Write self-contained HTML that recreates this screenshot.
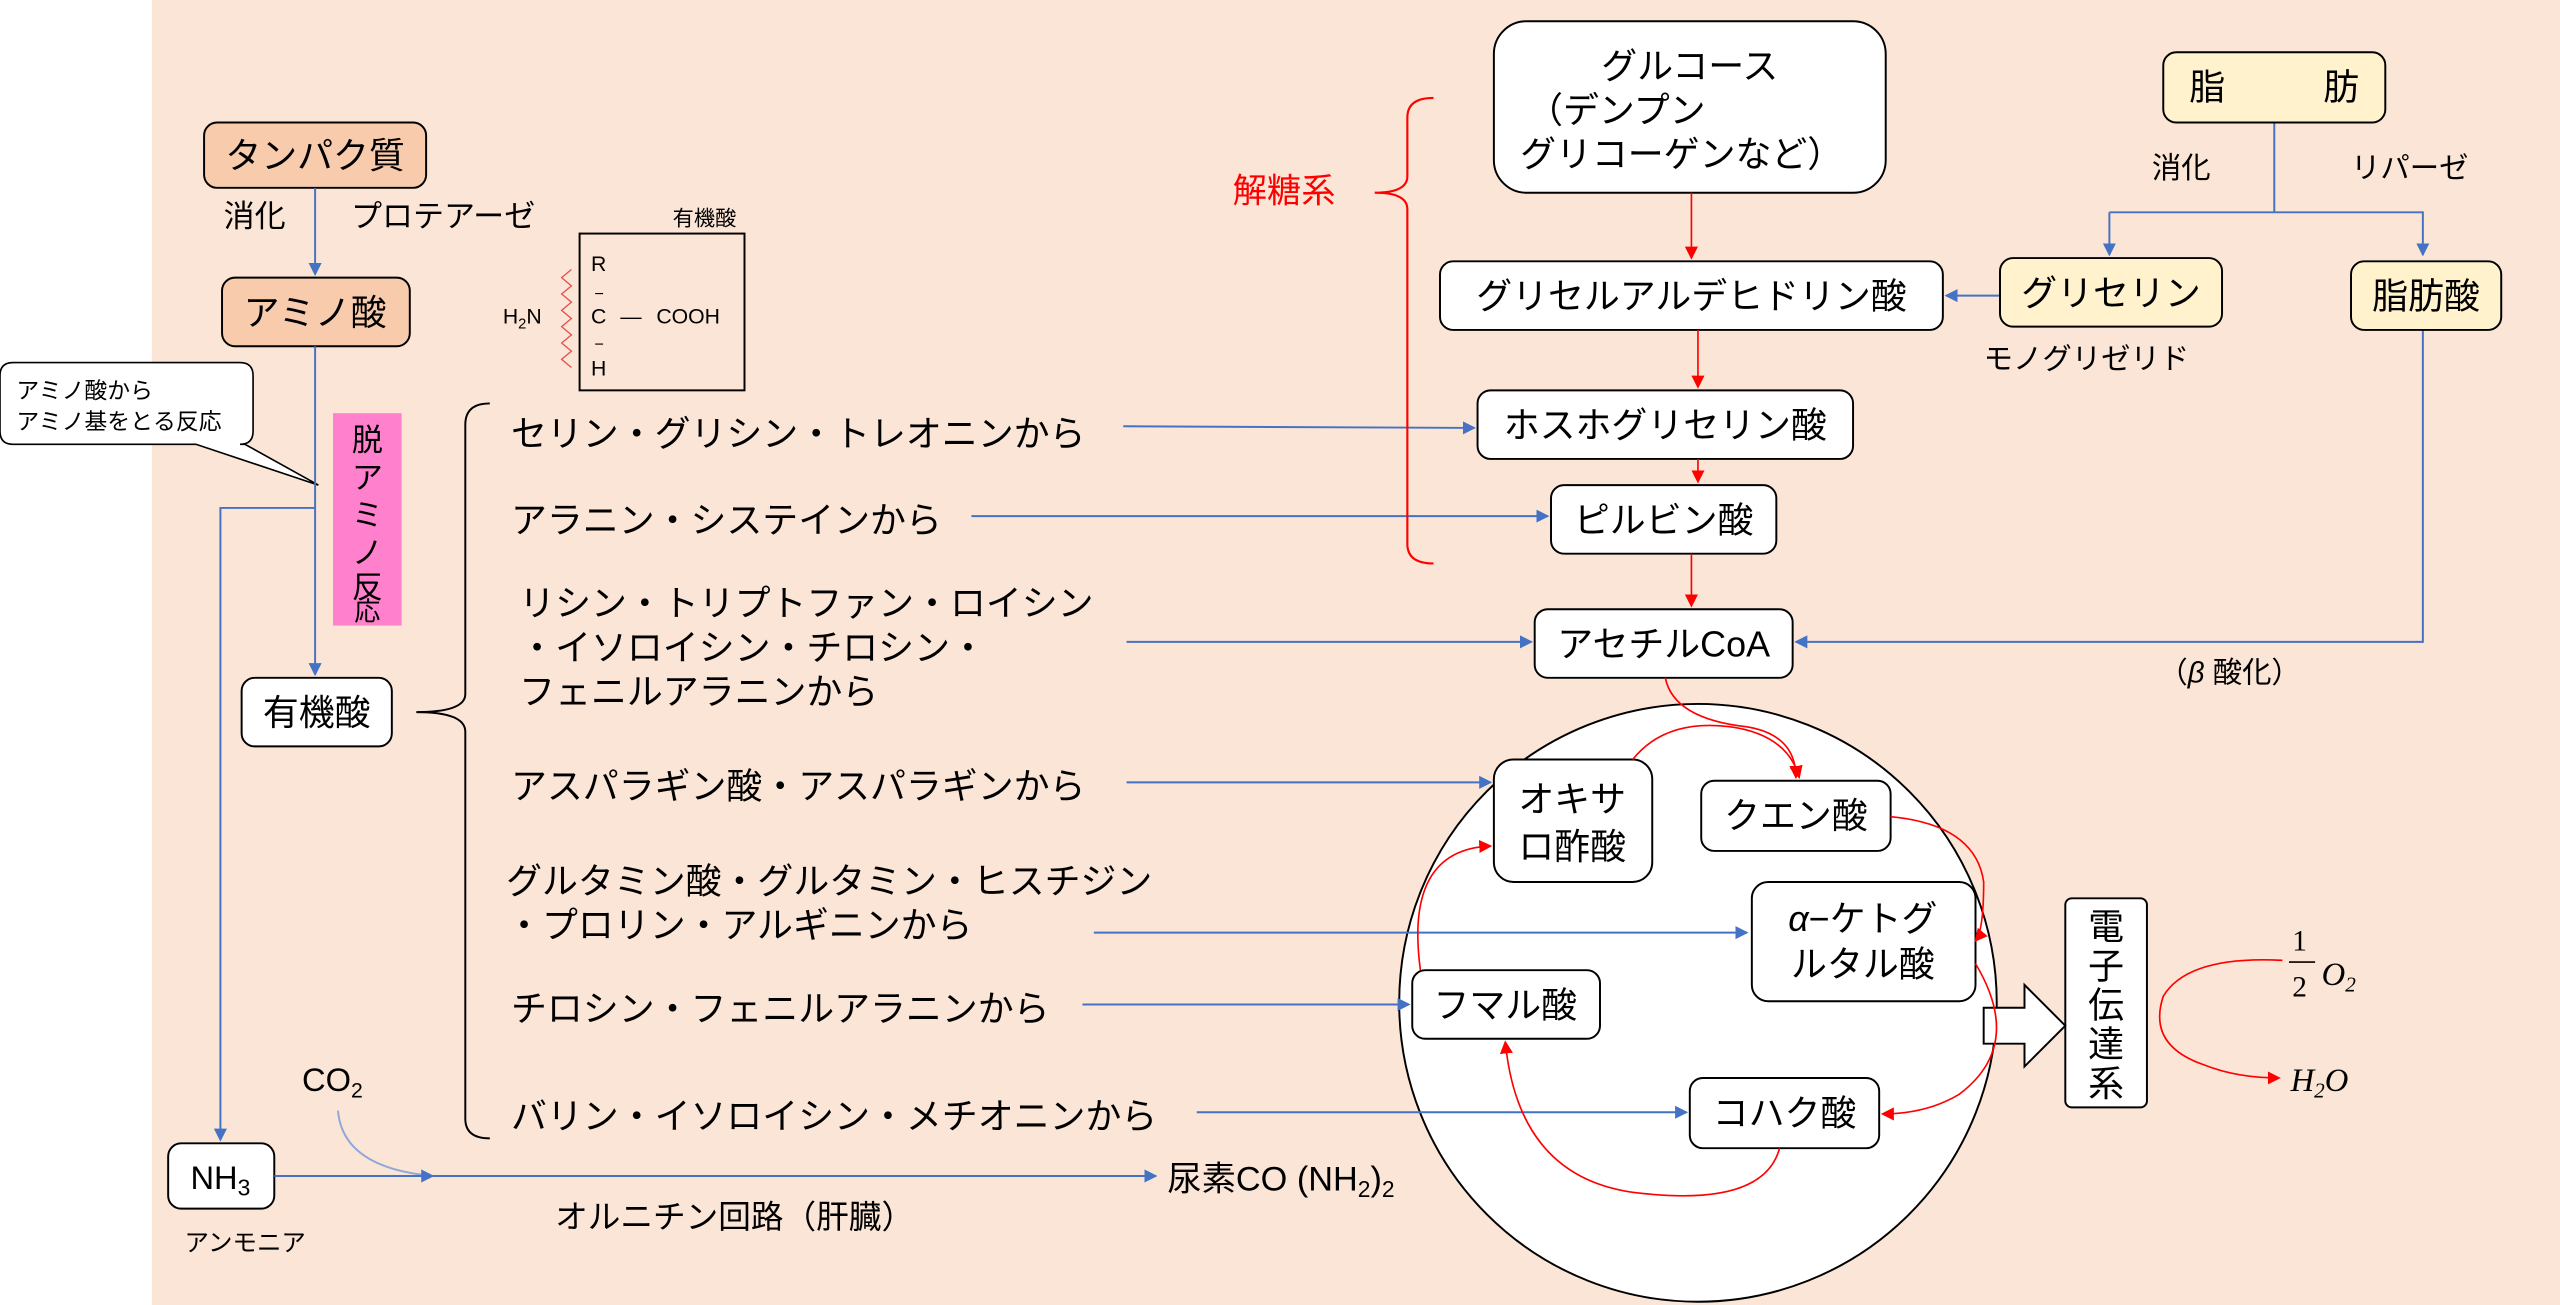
<!DOCTYPE html>
<html><head><meta charset="utf-8"><style>
html,body{margin:0;padding:0;background:#fff}
svg{display:block}
text{font-family:"Liberation Sans","Noto Sans CJK JP",sans-serif;fill:#000}
</style></head><body>
<svg width="2560" height="1305" viewBox="0 0 1568 799" preserveAspectRatio="none" xmlns="http://www.w3.org/2000/svg">
<defs>
<marker id="ab" markerWidth="8" markerHeight="8" refX="7" refY="4" orient="auto" markerUnits="userSpaceOnUse"><path d="M0,0 L8,4 L0,8 z" fill="#4472C4"/></marker>
<marker id="ar" markerWidth="8" markerHeight="8" refX="7" refY="4" orient="auto" markerUnits="userSpaceOnUse"><path d="M0,0 L8,4 L0,8 z" fill="#FF0000"/></marker>
</defs>
<rect x="93" y="0" width="1475" height="799" fill="#FBE5D6"/>
<circle cx="1040" cy="614" r="183" fill="#fff" stroke="#000" stroke-width="1.2"/>
<g stroke="#000" stroke-width="1.2">
<rect x="125" y="75" width="136" height="40" rx="8" fill="#F8CBAD"/>
<rect x="136" y="170" width="115" height="42" rx="8" fill="#F8CBAD"/>
<rect x="148" y="415" width="92" height="42" rx="8" fill="#fff"/>
<rect x="103" y="700" width="65" height="40" rx="8" fill="#fff"/>
</g>
<rect x="204" y="253" width="42" height="130" fill="#FF80CC"/>
<g font-size="22" text-anchor="middle">
<text x="193" y="103">タンパク質</text>
<text x="193" y="199">アミノ酸</text>
<text x="194" y="444">有機酸</text>
<text x="135" y="728" font-size="20">NH<tspan font-size="14" dy="4">3</tspan></text>
</g>
<g font-size="19" text-anchor="middle">
<text x="225" y="276">脱</text><text x="225" y="299">ア</text><text x="225" y="322">ミ</text><text x="225" y="345">ノ</text><text x="225" y="366">反</text><text x="225" y="380" font-size="16">応</text>
</g>
<g font-size="19">
<text x="137" y="139">消化</text><text x="215" y="139">プロテアーゼ</text>
<text x="113" y="766" font-size="15">アンモニア</text>
<text x="185" y="668" font-size="20">CO<tspan font-size="13" dy="4">2</tspan></text>
<text x="340" y="752" font-size="20">オルニチン回路（肝臓）</text>
<text x="715" y="729" font-size="21">尿素CO (NH<tspan font-size="14" dy="4">2</tspan><tspan dy="-4">)</tspan><tspan font-size="14" dy="4">2</tspan></text>
</g>
<path d="M8,222 H147 Q155,222 155,230 V264 Q155,272 147,272 H150 L195,297 L120,272 H8 Q0,272 0,264 V230 Q0,222 8,222 Z" fill="#fff" stroke="#000" stroke-width="1"/>
<text x="10" y="244" font-size="14">アミノ酸から</text>
<text x="10" y="263" font-size="14">アミノ基をとる反応</text>
<g stroke="#4472C4" stroke-width="1.2" fill="none">
<line x1="193" y1="115" x2="193" y2="168" marker-end="url(#ab)"/>
<line x1="193" y1="212" x2="193" y2="413" marker-end="url(#ab)"/>
<polyline points="193,311 135,311 135,698" marker-end="url(#ab)"/>
<path d="M207,680 Q210,715 265,720" stroke="#8FA8D8"/>
<line x1="168" y1="720" x2="265" y2="720" marker-end="url(#ab)"/>
<line x1="265" y1="720" x2="708" y2="720" marker-end="url(#ab)"/>
<line x1="688" y1="261" x2="903" y2="262" marker-end="url(#ab)"/>
<line x1="595" y1="316" x2="948" y2="316" marker-end="url(#ab)"/>
<line x1="690" y1="393" x2="938" y2="393" marker-end="url(#ab)"/>
<line x1="690" y1="479" x2="913" y2="479" marker-end="url(#ab)"/>
<line x1="670" y1="571" x2="1070" y2="571" marker-end="url(#ab)"/>
<line x1="663" y1="615" x2="863" y2="615" marker-end="url(#ab)"/>
<line x1="733" y1="681" x2="1033" y2="681" marker-end="url(#ab)"/>
<line x1="1225" y1="181" x2="1192" y2="181" marker-end="url(#ab)"/>
<line x1="1393" y1="75" x2="1393" y2="130"/>
<polyline points="1292,130 1484,130 1484,156" marker-end="url(#ab)"/>
<line x1="1292" y1="130" x2="1292" y2="156" marker-end="url(#ab)"/>
<polyline points="1484,202 1484,393 1100,393" marker-end="url(#ab)"/>
</g>
<path d="M300,247 Q285,247 285,260 V425 Q285,436 255,436 Q285,436 285,448 V685 Q285,697 300,697" fill="none" stroke="#000" stroke-width="1.2"/>
<g font-size="22">
<text x="313" y="273">セリン・グリシン・トレオニンから</text>
<text x="313" y="326">アラニン・システインから</text>
<text x="318" y="377">リシン・トリプトファン・ロイシン</text>
<text x="318" y="404">・イソロイシン・チロシン・</text>
<text x="318" y="431">フェニルアラニンから</text>
<text x="313" y="489">アスパラギン酸・アスパラギンから</text>
<text x="310" y="547">グルタミン酸・グルタミン・ヒスチジン</text>
<text x="310" y="574">・プロリン・アルギニンから</text>
<text x="313" y="625">チロシン・フェニルアラニンから</text>
<text x="313" y="691">バリン・イソロイシン・メチオニンから</text>
</g>
<rect x="355" y="143" width="101" height="96" fill="none" stroke="#000" stroke-width="1.2"/>
<g font-size="13">
<text x="412" y="138">有機酸</text>
<text x="362" y="166">R</text><text x="364" y="183" font-size="10">−</text>
<text x="362" y="198">C</text><text x="380" y="198">—</text><text x="402" y="198">COOH</text>
<text x="364" y="214" font-size="10">−</text><text x="362" y="230">H</text>
<text x="308" y="198">H<tspan font-size="9" dy="3">2</tspan><tspan dy="-3">N</tspan></text>
</g>
<path d="M350,165 l-6,5 l6,5 l-6,5 l6,5 l-6,5 l6,5 l-6,5 l6,5 l-6,5 l6,5 l-6,5 l6,5" fill="none" stroke="#E05050" stroke-width="0.8"/>
<path d="M878,60 Q862,60 862,72 V108 Q862,118 842,118 Q862,118 862,128 V333 Q862,345 878,345" fill="none" stroke="#FF0000" stroke-width="1.3"/>
<text x="755" y="124" font-size="21" style="fill:#FF0000">解糖系</text>
<g stroke="#000" stroke-width="1.2" fill="#fff">
<rect x="915" y="13" width="240" height="105" rx="20"/>
<rect x="882" y="160" width="308" height="42" rx="8"/>
<rect x="905" y="239" width="230" height="42" rx="8"/>
<rect x="950" y="297" width="138" height="42" rx="8"/>
<rect x="940" y="373" width="158" height="42" rx="8"/>
<rect x="1325" y="32" width="136" height="43" rx="8" fill="#FFF2CC"/>
<rect x="1225" y="158" width="136" height="42" rx="8" fill="#FFF2CC"/>
<rect x="1440" y="160" width="92" height="42" rx="8" fill="#FFF2CC"/>
<rect x="915" y="465" width="97" height="75" rx="12"/>
<rect x="1042" y="478" width="116" height="43" rx="8"/>
<rect x="1073" y="540" width="137" height="73" rx="10"/>
<rect x="865" y="594" width="115" height="42" rx="8"/>
<rect x="1035" y="660" width="116" height="43" rx="8"/>
<rect x="1265" y="550" width="50" height="128" rx="4"/>
<path d="M1215,617 H1240 V603 L1265,628 L1240,653 V639 H1215 Z"/>
</g>
<g font-size="22" text-anchor="middle">
<text x="1035" y="48">グルコース</text>
<text x="990" y="75">（デンプン</text>
<text x="1030" y="102">グリコーゲンなど）</text>
<text x="1036" y="189">グリセルアルデヒドリン酸</text>
<text x="1020" y="268">ホスホグリセリン酸</text>
<text x="1019" y="326">ピルビン酸</text>
<text x="1019" y="402">アセチルCoA</text>
<text x="1393" y="61">脂<tspan dx="60">肪</tspan></text>
<text x="1293" y="187">グリセリン</text>
<text x="1486" y="189">脂肪酸</text>
<text x="963" y="497">オキサ</text><text x="963" y="526">ロ酢酸</text>
<text x="1100" y="507">クエン酸</text>
<text x="1141" y="570"><tspan font-style="italic">α</tspan>−ケトグ</text><text x="1141" y="598">ルタル酸</text>
<text x="922" y="623">フマル酸</text>
<text x="1093" y="689">コハク酸</text>
<text x="1290" y="575">電</text><text x="1290" y="599">子</text><text x="1290" y="623">伝</text><text x="1290" y="647">達</text><text x="1290" y="671">系</text>
</g>
<g font-size="18">
<text x="1318" y="109">消化</text><text x="1440" y="109">リパーゼ</text>
<text x="1215" y="226">モノグリゼリド</text>
<text x="1322" y="418">（<tspan font-style="italic">β</tspan> 酸化）</text>
</g>
<text x="1404" y="582" font-size="18" style="font-family:'Liberation Serif',serif">1</text>
<line x1="1402" y1="589" x2="1418" y2="589" stroke="#000"/>
<text x="1404" y="610" font-size="18" style="font-family:'Liberation Serif',serif">2</text>
<text x="1422" y="603" font-size="20" font-style="italic" style="font-family:'Liberation Serif',serif">O<tspan font-size="13" dy="4">2</tspan></text>
<text x="1403" y="668" font-size="20" font-style="italic" style="font-family:'Liberation Serif',serif">H<tspan font-size="13" dy="4">2</tspan><tspan dy="-4">O</tspan></text>
<g stroke="#FF0000" stroke-width="1" fill="none">
<line x1="1036" y1="118" x2="1036" y2="158" marker-end="url(#ar)"/>
<line x1="1040" y1="202" x2="1040" y2="237" marker-end="url(#ar)"/>
<line x1="1040" y1="281" x2="1040" y2="295" marker-end="url(#ar)"/>
<line x1="1036" y1="339" x2="1036" y2="371" marker-end="url(#ar)"/>
<path d="M1020,415 Q1025,440 1070,445 Q1100,450 1100,476" marker-end="url(#ar)"/>
<path d="M1000,465 Q1020,440 1060,445 Q1095,450 1102,476" marker-end="url(#ar)"/>
<path d="M1158,500 Q1210,505 1215,540 Q1215,570 1210,576" marker-end="url(#ar)"/>
<path d="M1210,590 Q1240,640 1200,670 Q1180,682 1153,682" marker-end="url(#ar)"/>
<path d="M1090,703 Q1080,740 1000,730 Q930,720 922,638" marker-end="url(#ar)"/>
<path d="M870,594 Q860,520 913,518" marker-end="url(#ar)"/>
<path d="M1398,588 Q1340,585 1325,610 Q1315,640 1350,652 Q1370,660 1396,660" marker-end="url(#ar)"/>
</g>
</svg>
</body></html>
